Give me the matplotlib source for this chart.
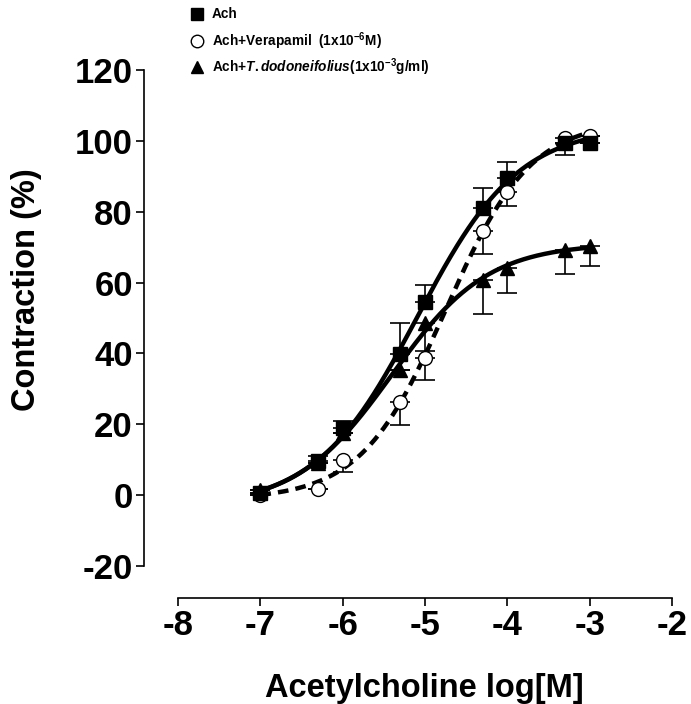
import numpy as np
import matplotlib.pyplot as plt
from matplotlib.lines import Line2D

plt.rcParams['font.family'] = ['Liberation Sans', 'DejaVu Sans']
plt.rcParams['font.weight'] = 'bold'
plt.rcParams['axes.unicode_minus'] = False
plt.rcParams['mathtext.fontset'] = 'custom'
plt.rcParams['mathtext.rm'] = 'Liberation Sans:bold'
plt.rcParams['mathtext.bf'] = 'Liberation Sans:bold'
plt.rcParams['mathtext.it'] = 'Liberation Sans:bold:italic'

# log[Ach] concentrations
log_conc = [-7, -6.3, -6, -5.3, -5, -4.3, -4, -3.3, -3]

# Ach alone
ach = [0.5, 9.5, 18.9, 39.7, 54.4, 81.0, 89.4, 99.4, 99.4]
ach_err_lo = [0, 0, 0, 0, 0, 0, 0, 0, 0]
ach_err_hi = [0, 1.5, 2.1, 8.8, 5.0, 5.8, 4.5, 0, 0]

# Ach + Verapamil
vera = [0.0, 1.8, 10.0, 26.2, 38.6, 74.6, 85.6, 100.8, 101.4]
vera_err_lo = [0, 0, 3.5, 6.5, 6.0, 6.6, 3.9, 4.8, 0]
vera_err_hi = [0, 0, 0, 0, 0, 0, 0, 0, 0]

# Ach + T. dodoneifolius
tdod = [1.5, 9.0, 17.5, 35.2, 48.7, 60.6, 64.2, 69.3, 70.3]
tdod_err_lo = [0, 0, 0, 0, 7.9, 9.6, 7.2, 7.0, 5.7]
tdod_err_hi = [0, 0, 0, 0, 0, 0, 0, 0, 0]

legend_labels = [
    'Ach',
    r'Ach+Verapamil  (1x10$^{\mathrm{-6}}$M)',
    r'Ach+$\it{T.dodoneifolius}$(1x10$^{\mathrm{-3}}$g/ml)',
]


def logistic(p, x):
    bottom, top, logec50, hill = p
    return bottom + (top - bottom) / (1.0 + 10.0 ** ((logec50 - x) * hill))


def fit_logistic(x, y, p0):
    # small Levenberg-Marquardt, sigmoidal dose-response (variable slope)
    x = np.asarray(x, float)
    y = np.asarray(y, float)
    p = np.asarray(p0, float)
    lam = 1e-2
    for _ in range(300):
        r = y - logistic(p, x)
        J = np.zeros((len(x), len(p)))
        for j in range(len(p)):
            dp = np.zeros(len(p))
            dp[j] = 1e-6 * max(1.0, abs(p[j]))
            J[:, j] = (logistic(p + dp, x) - logistic(p - dp, x)) / (2 * dp[j])
        A = J.T @ J
        g = J.T @ r
        step = np.linalg.solve(A + lam * np.diag(np.diag(A)), g)
        p_new = p + step
        if np.sum((y - logistic(p_new, x)) ** 2) < np.sum(r ** 2):
            p = p_new
            lam *= 0.3
        else:
            lam *= 5
    return p


fig = plt.figure(figsize=(6.91, 7.04), dpi=100)
ax = fig.add_axes([178 / 691, 138 / 704, 494 / 691, 496 / 704])

x_fit = np.linspace(-7, -3, 300)

series = [
    (vera, vera_err_lo, vera_err_hi, 'o', 'white', '--', [0, 100, -4.7, 1]),
    (tdod, tdod_err_lo, tdod_err_hi, '^', 'black', '-', [0, 70, -5.3, 1]),
    (ach, ach_err_lo, ach_err_hi, 's', 'black', '-', [0, 100, -5, 1]),
]

for vals, lo, hi, mk, fc, ls, p0 in series:
    p = fit_logistic(log_conc, vals, p0)
    line, = ax.plot(x_fit, logistic(p, x_fit), color='black', lw=3.2, ls=ls, zorder=2)
    if ls == '--':
        line.set_dashes((2.4, 1.6))
    ax.errorbar(log_conc, vals, yerr=[lo, hi], fmt='none', ecolor='black',
                elinewidth=1.2, capsize=7, capthick=1.2, zorder=3)
    ax.plot(log_conc, vals, ls='none', marker=mk, ms=10, mfc=fc, mec='black',
            mew=1.0, zorder=4)

ax.set_xlim(-8, -2)
ax.set_ylim(-20, 120)
ax.set_xticks([-8, -7, -6, -5, -4, -3, -2])
ax.set_yticks([-20, 0, 20, 40, 60, 80, 100, 120])
ax.spines['top'].set_visible(False)
ax.spines['right'].set_visible(False)
ax.spines['left'].set_position(('outward', 24.5))
ax.spines['bottom'].set_position(('outward', 23))
for s in ('left', 'bottom'):
    ax.spines[s].set_linewidth(1.2)
ax.tick_params(axis='both', length=6, width=1.2, labelsize=25, pad=2)
for lab in ax.get_xticklabels() + ax.get_yticklabels():
    lab.set_fontweight('bold')

fig.text(424 / 691, 1 - 688 / 704, 'Acetylcholine log[M]', ha='center', va='center',
         fontsize=23.5, fontweight='bold')
fig.text(27 / 691, 1 - 290 / 704, 'Contraction (%)', ha='center', va='center',
         rotation=90, fontsize=23.5, fontweight='bold')

# legend, drawn by hand at the top
leg_markers = [('s', 'black'), ('o', 'white'), ('^', 'black')]
leg_y = [14, 41, 67]
for (mk, fc), yy, lab in zip(leg_markers, leg_y, legend_labels):
    fig.add_artist(Line2D([197 / 691], [1 - yy / 704], marker=mk, ms=9, mfc=fc,
                          mec='black', mew=1.0, ls='none', transform=fig.transFigure))
    fig.text(212 / 691, 1 - yy / 704, lab, ha='left', va='center', fontsize=9.8,
             fontweight='bold')

fig.savefig('out.png', dpi=100)
